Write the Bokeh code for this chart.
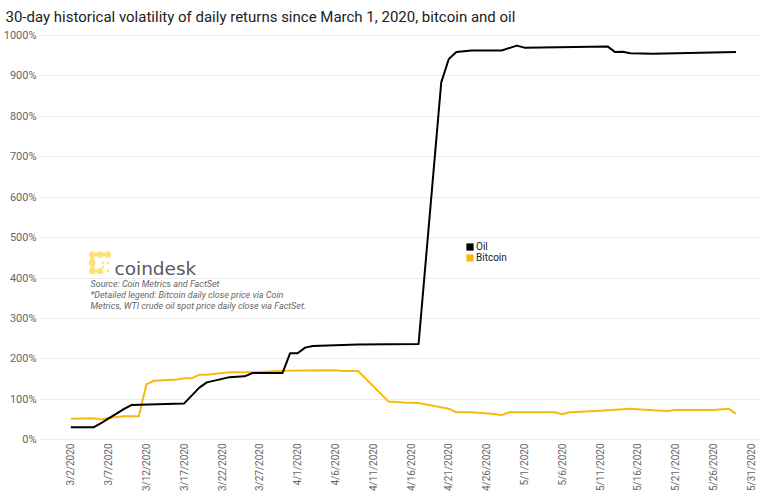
import math
import pandas as pd
from bokeh.plotting import figure
from bokeh.models import (ColumnDataSource, Range1d, FixedTicker, Legend, LegendItem, Label)
from bokeh.embed import file_html
from bokeh.resources import INLINE

# ---------------- data ----------------
oil_dates = ["2020-03-02", "2020-03-05", "2020-03-06", "2020-03-07", "2020-03-08", "2020-03-09",
             "2020-03-10", "2020-03-17", "2020-03-19", "2020-03-20", "2020-03-23", "2020-03-25",
             "2020-03-26", "2020-03-30", "2020-03-31", "2020-04-01", "2020-04-02", "2020-04-03",
             "2020-04-09", "2020-04-17", "2020-04-20", "2020-04-21", "2020-04-22", "2020-04-24",
             "2020-04-28", "2020-04-30", "2020-05-01", "2020-05-12", "2020-05-13", "2020-05-14",
             "2020-05-15", "2020-05-18", "2020-05-29"]
oil_vol = [31, 31, 41, 53, 64, 76,
           86, 90, 129, 142, 155, 157,
           165, 165, 214, 214, 228, 232,
           236, 237, 884, 942, 959, 963,
           963, 975, 970, 973, 959, 960,
           956, 955, 959]

btc_dates = ["2020-03-02", "2020-03-05", "2020-03-06", "2020-03-07", "2020-03-09", "2020-03-11",
             "2020-03-12", "2020-03-13", "2020-03-16", "2020-03-17", "2020-03-18", "2020-03-19",
             "2020-03-20", "2020-03-23", "2020-03-26", "2020-03-30", "2020-04-06", "2020-04-07",
             "2020-04-09", "2020-04-13", "2020-04-15", "2020-04-17", "2020-04-21", "2020-04-22",
             "2020-04-24", "2020-04-27", "2020-04-28", "2020-04-29", "2020-05-05", "2020-05-06",
             "2020-05-07", "2020-05-11", "2020-05-12", "2020-05-15", "2020-05-18", "2020-05-20",
             "2020-05-21", "2020-05-26", "2020-05-28", "2020-05-29"]
btc_vol = [52, 53, 50, 54, 58, 58,
           137, 146, 149, 152, 152, 161,
           161, 167, 167, 171, 172, 170,
           170, 95, 92, 91, 77, 68,
           68, 64, 61, 68, 68, 63,
           68, 72, 73, 77, 73, 71,
           74, 74, 77, 64]

tick_dates = ["2020-03-02", "2020-03-07", "2020-03-12", "2020-03-17", "2020-03-22", "2020-03-27",
              "2020-04-01", "2020-04-06", "2020-04-11", "2020-04-16", "2020-04-21", "2020-04-26",
              "2020-05-01", "2020-05-06", "2020-05-11", "2020-05-16", "2020-05-21", "2020-05-26",
              "2020-05-31"]
tick_labels = ["3/2/2020", "3/7/2020", "3/12/2020", "3/17/2020", "3/22/2020", "3/27/2020",
               "4/1/2020", "4/6/2020", "4/11/2020", "4/16/2020", "4/21/2020", "4/26/2020",
               "5/1/2020", "5/6/2020", "5/11/2020", "5/16/2020", "5/21/2020", "5/26/2020",
               "5/31/2020"]
y_ticks = [0, 100, 200, 300, 400, 500, 600, 700, 800, 900, 1000]
y_labels = ["0%", "100%", "200%", "300%", "400%", "500%", "600%", "700%", "800%", "900%", "1000%"]

series_names = ["Oil", "Bitcoin"]
title_text = "30-day historical volatility of daily returns since March 1, 2020, bitcoin and oil"
source_lines = ["Source: Coin Metrics and FactSet",
                "*Detailed legend: Bitcoin daily close price via Coin",
                "Metrics, WTI crude oil spot price daily close via FactSet."]

# ---------------- helpers ----------------
START = pd.Timestamp("2020-03-02")


def days(ds):
    return [int((pd.Timestamp(d) - START).days) for d in ds]


# reference-pixel -> data conversion, used only to place decorations
def dx(px):
    return (px - 73.3) / 7.56


def vy(py):
    return (439.3 - py) / 0.4043


OIL_C = "#000000"
BTC_C = "#F8B90F"
FONT = "Roboto"
NAN = float("nan")

FRAME_L, FRAME_R, FRAME_T, FRAME_B = 42, 764, 30, 440

p = figure(frame_width=FRAME_R - FRAME_L, frame_height=FRAME_B - FRAME_T,
           x_range=Range1d(dx(FRAME_L), dx(FRAME_R)),
           y_range=Range1d(vy(FRAME_B), vy(FRAME_T)),
           output_backend="svg", toolbar_location=None,
           min_border_left=0, min_border_right=0, min_border_top=0, min_border_bottom=0)

p.title.text = title_text
p.title.text_font = FONT
p.title.text_font_size = "15px"
p.title.text_font_style = "normal"
p.title.text_color = "#222222"
p.title.align = "left"
p.title.offset = -34
p.title.standoff = 10

p.outline_line_color = None
p.background_fill_color = "white"
p.border_fill_color = "white"
p.xgrid.visible = False
p.ygrid.grid_line_color = "#ececec"
p.ygrid.grid_line_width = 1

tick_days = days(tick_dates)
p.xaxis.ticker = FixedTicker(ticks=tick_days)
p.xaxis.major_label_overrides = {d: l for d, l in zip(tick_days, tick_labels)}
p.xaxis.major_label_orientation = math.pi / 2
p.xaxis.major_label_text_font = FONT
p.xaxis.major_label_text_font_size = "10px"
p.xaxis.major_label_text_color = "#666666"
p.xaxis.major_label_standoff = 3

p.yaxis.ticker = FixedTicker(ticks=y_ticks)
p.yaxis.major_label_overrides = {v: l for v, l in zip(y_ticks, y_labels)}
p.yaxis.major_label_text_font = FONT
p.yaxis.major_label_text_font_size = "11px"
p.yaxis.major_label_text_color = "#666666"
p.yaxis.major_label_standoff = 3

for ax in (p.xaxis, p.yaxis):
    ax.axis_line_color = None
    ax.major_tick_line_color = None
    ax.minor_tick_line_color = None
    ax.major_tick_out = 0
    ax.major_tick_in = 0

btc_src = ColumnDataSource(dict(x=days(btc_dates), y=btc_vol))
oil_src = ColumnDataSource(dict(x=days(oil_dates), y=oil_vol))
p.line("x", "y", source=btc_src, line_color=BTC_C, line_width=2, line_join="round")
p.line("x", "y", source=oil_src, line_color=OIL_C, line_width=2, line_join="round")

# legend with square swatches (area renderers with one undrawn NaN row)
sw_oil = p.quad(left=[NAN], right=[NAN], top=[NAN], bottom=[NAN], fill_color=OIL_C, line_color=None)
sw_btc = p.quad(left=[NAN], right=[NAN], top=[NAN], bottom=[NAN], fill_color=BTC_C, line_color=None)
legend = Legend(items=[LegendItem(label=series_names[0], renderers=[sw_oil]),
                       LegendItem(label=series_names[1], renderers=[sw_btc])],
                location=(468 - FRAME_L, FRAME_B - 263),
                padding=0, margin=0, spacing=0,
                glyph_width=9, glyph_height=9, label_height=9, label_standoff=2,
                label_text_font=FONT, label_text_font_size="10px",
                label_text_line_height=1.0, label_text_color="#222222",
                border_line_color=None, background_fill_alpha=0)
p.add_layout(legend)

# coindesk logo (decoration)
LOGO_C = "#FDE27A"
big = [(94.7, 254), (102.5, 254), (110.3, 254), (94.7, 262.2), (94.7, 270.4), (102.5, 270.4)]
small = [(105.5, 262.2), (110.3, 262.2), (105.5, 266.5), (110.3, 270.4)]
p.segment(x0=[dx(94.7), dx(94.7), dx(94.7)], y0=[vy(254), vy(254), vy(270.4)],
          x1=[dx(110.3), dx(94.7), dx(102.5)], y1=[vy(254), vy(270.4), vy(270.4)],
          line_color=LOGO_C, line_width=3.5)
p.scatter([dx(a) for a, b in big], [vy(b) for a, b in big], size=6.5,
          fill_color=LOGO_C, line_color=None)
p.scatter([dx(a) for a, b in small], [vy(b) for a, b in small], size=2.5,
          fill_color=LOGO_C, line_color=None)
p.add_layout(Label(x=dx(117), y=vy(267.5), text="coindesk", text_font="DejaVu Sans",
                   text_font_size="18.5px", text_color="#5a5a5a", text_baseline="alphabetic"))

for line, py in zip(source_lines, [283, 294, 305.5]):
    p.add_layout(Label(x=dx(93), y=vy(py), text=line, text_font=FONT, text_font_size="9px",
                       text_font_style="italic", text_color="#666666", text_baseline="middle"))

open("out.html", "w").write(file_html(p, INLINE))
